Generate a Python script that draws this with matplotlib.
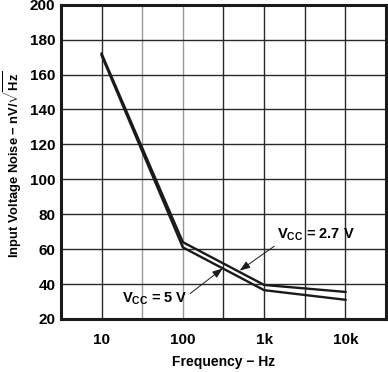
import numpy as np
import matplotlib
matplotlib.use("Agg")
import matplotlib.pyplot as plt

# Input voltage noise vs frequency, two supply voltages
freq = [10, 100, 1000, 10000]
noise_27v = [172, 64, 39.5, 35.5]
noise_5v = [171, 61, 36.5, 31]

x_ticks = [10, 100, 1000, 10000]
x_labels = ["10", "100", "1k", "10k"]
y_ticks = [20, 40, 60, 80, 100, 120, 140, 160, 180, 200]

plt.rcParams['font.family'] = ['Liberation Sans', 'DejaVu Sans']
plt.rcParams['font.weight'] = 'bold'
plt.rcParams['mathtext.fontset'] = 'custom'
plt.rcParams['mathtext.rm'] = 'Liberation Sans:bold'
plt.rcParams['mathtext.bf'] = 'Liberation Sans:bold'
plt.rcParams['mathtext.it'] = 'Liberation Sans:bold'

fig = plt.figure(figsize=(3.88, 3.72), dpi=100)
ax = fig.add_axes([0.157, 0.1425, 0.838, 0.845])

ax.set_xscale('log')
ax.set_xlim(10 ** 0.5, 10 ** 4.5)
ax.set_ylim(20, 200)

# vertical grid every half decade (reference scan shows mixed shades)
grid_x = 10 ** np.arange(1, 4.5, 0.5)
grid_c = ['#2a2a2a', '#999999', '#999999', '#2a2a2a', '#2a2a2a', '#2a2a2a', '#2a2a2a']
for gx, gc in zip(grid_x, grid_c):
    ax.axvline(gx, color=gc, lw=1.0, zorder=1)
for gy in y_ticks[1:-1]:
    ax.axhline(gy, color='#2a2a2a', lw=1.0, zorder=1)

ax.plot(freq, noise_27v, color='#1a1a1a', lw=1.7, zorder=3)
ax.plot(freq, noise_5v, color='#1a1a1a', lw=1.7, zorder=3)

ax.set_xticks(x_ticks)
ax.set_xticklabels(x_labels)
ax.set_xticks([], minor=True)
ax.set_yticks(y_ticks)
ax.tick_params(axis='both', length=0, labelsize=11)
ax.tick_params(axis='x', pad=10)
ax.tick_params(axis='y', pad=4)

for sp in ax.spines.values():
    sp.set_linewidth(2.2)
    sp.set_color('#1a1a1a')

ax.set_xlabel("Frequency − Hz", fontsize=10, fontweight='bold', va='center')
ax.xaxis.set_label_coords(0.5, -0.137)
ax.set_ylabel(r"Input Voltage Noise − nV/$\sqrt{\mathrm{Hz}}$", fontsize=9.3,
              fontweight='bold', va='center')
ax.yaxis.set_label_coords(-0.148, 0.49)

arrow = dict(arrowstyle='-|>,head_length=0.6,head_width=0.22', color='#1a1a1a',
             lw=0.7, shrinkA=0, shrinkB=0)
ax.annotate(r"V$_{\mathrm{CC}}$ = 2.7 V", xy=(500, 47.7), xytext=(4300, 68),
            ha='center', va='center', fontsize=10.5, fontweight='bold',
            arrowprops=dict(arrow, relpos=(0.02, 0.0)), zorder=4)
ax.annotate(r"V$_{\mathrm{CC}}$ = 5 V", xy=(310, 49), xytext=(45, 31.5),
            ha='center', va='center', fontsize=10.5, fontweight='bold',
            arrowprops=dict(arrow, relpos=(1.0, 0.7)), zorder=4)

fig.savefig("out.png", dpi=100)
